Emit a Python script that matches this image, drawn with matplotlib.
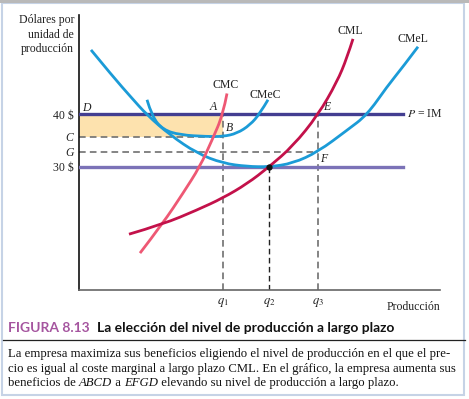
import matplotlib
matplotlib.use("Agg")
import matplotlib.pyplot as plt
from matplotlib.path import Path
from matplotlib.patches import PathPatch

# quantity (arbitrary units) and dollars per unit
q1, q2, q3 = 14.4, 19.0, 23.9
price_high, price_low = 40, 30
level_c, level_g = 35.8, 32.9

cmel_x = [1.2, 3.4, 5.2, 6.8, 9.1, 11.8, 14.4, 16.8, 19.0, 21.4, 23.9, 26.8, 28.8, 30.8, 32.4, 33.9]
cmel_y = [52.3, 47.2, 43.3, 39.9, 36.1, 32.6, 30.7, 30.1, 30.0, 30.7, 32.9, 37.0, 39.9, 45.3, 49.1, 52.9]

cmec_x = [6.8, 7.3, 8.4, 10.1, 12.8, 14.4, 15.8, 17.1, 18.1, 18.9]
cmec_y = [42.8, 39.6, 37.1, 36.1, 35.8, 35.8, 36.4, 38.0, 40.2, 42.8]

cmc_x = [6.1, 8.4, 10.4, 12.1, 13.3, 14.4, 14.8]
cmc_y = [13.6, 19.3, 25.0, 30.1, 35.1, 40.0, 44.0]

cml_x = [5.0, 8.4, 11.8, 14.4, 16.8, 19.0, 21.4, 23.9, 25.8, 26.8, 27.4]
cml_y = [17.2, 19.1, 21.8, 24.1, 26.8, 30.0, 34.0, 39.9, 46.2, 50.8, 54.4]

ytick_vals = [price_high, level_c, level_g, price_low]
ytick_labels = ["40 $", "C", "G", "30 $"]
xtick_vals = [q1, q2, q3]
xtick_labels = ["$q_1$", "$q_2$", "$q_3$"]

SERIF = "Liberation Serif"
plt.rcParams["font.family"] = SERIF
plt.rcParams["mathtext.fontset"] = "stix"

blue = "#1b9bd7"
pink = "#ee5874"
crimson = "#c3114a"
dash_grey = "#707070"

fig = plt.figure(figsize=(4.69, 3.99), dpi=100)
W, H = 469, 399

def fx(px):
    return px / W

def fy(py):
    return 1 - py / H

ax = fig.add_axes([fx(79), fy(290), fx(440) - fx(79), fy(15) - fy(290)])
ax.set_xlim(0, 36.1)
ax.set_ylim(6.57, 58.95)


def smooth_curve(xs, ys, color, z):
    # quadratic bezier through the midpoints, read points act as controls
    pts = list(zip(xs, ys))
    verts = [pts[0]]
    codes = [Path.MOVETO]
    for i in range(1, len(pts) - 1):
        mid = ((pts[i][0] + pts[i + 1][0]) / 2, (pts[i][1] + pts[i + 1][1]) / 2)
        if i == len(pts) - 2:
            mid = pts[-1]
        verts += [pts[i], mid]
        codes += [Path.CURVE3, Path.CURVE3]
    patch = PathPatch(Path(verts, codes), fill=False, edgecolor=color, lw=2.0,
                      zorder=z, capstyle="butt")
    ax.add_patch(patch)


# profit area ABCD
ax.fill_between([0, q1], level_c, price_high, color="#fde2ae", lw=0, zorder=1)

# guide lines
dash = (0, (4, 2.5))
ax.plot([0, q1], [level_c, level_c], color=dash_grey, lw=1.2, ls=dash, zorder=2)
ax.plot([0, q3], [level_g, level_g], color=dash_grey, lw=1.2, ls=dash, zorder=2)
ax.plot([q1, q1], [6.57, price_high], color=dash_grey, lw=1.2, ls=dash, zorder=2)
ax.plot([q3, q3], [6.57, price_high], color=dash_grey, lw=1.2, ls=dash, zorder=2)
ax.plot([q2, q2], [6.57, price_low], color="#222222", lw=1.0, ls=dash, zorder=2)

# price lines
ax.plot([0, 32.4], [price_high, price_high], color="#433e91", lw=2.4, zorder=3)
ax.plot([0, 32.4], [price_low, price_low], color="#7b72b7", lw=2.4, zorder=3)

# cost curves
smooth_curve(cmel_x, cmel_y, blue, 4)
smooth_curve(cmec_x, cmec_y, blue, 4)
smooth_curve(cmc_x, cmc_y, pink, 5)
smooth_curve(cml_x, cml_y, crimson, 5)
ax.plot([q2], [price_low], "o", color="#111111", ms=3.5, zorder=6)

# curve names and points
lab = dict(fontsize=8.5, color="#222222", family=SERIF)
ax.text(14.7, 45.6, "CMC", ha="center", va="center", **lab)
ax.text(18.6, 43.7, "CMeC", ha="center", va="center", **lab)
ax.text(27.1, 55.9, "CML", ha="center", va="center", **lab)
ax.text(33.4, 54.4, "CMeL", ha="center", va="center", **lab)
ax.text(32.8, price_high, "$P$ = IM", ha="left", va="center", **lab)
pts = dict(fontsize=8.5, color="#222222", family=SERIF, style="italic", va="center")
ax.text(0.3, 41.3, "D", ha="left", **pts)
ax.text(13.4, 41.4, "A", ha="center", **pts)
ax.text(15.0, 37.4, "B", ha="center", **pts)
ax.text(24.8, 41.4, "E", ha="center", **pts)
ax.text(24.5, 31.6, "F", ha="center", **pts)

ax.set_yticks(ytick_vals)
ax.set_yticklabels(ytick_labels, fontsize=8.5)
for t in ax.get_yticklabels():
    if t.get_text() in ("C", "G"):
        t.set_style("italic")
ax.set_xticks(xtick_vals)
ax.set_xticklabels(xtick_labels, fontsize=9)
ax.tick_params(axis="both", length=0, pad=4, colors="#222222")

for s in ["top", "right"]:
    ax.spines[s].set_visible(False)
ax.spines["left"].set_color("#111111")
ax.spines["left"].set_linewidth(1.2)
ax.spines["bottom"].set_color("#666666")
ax.spines["bottom"].set_linewidth(1.2)

ax.text(1.0, -0.04, "Producción", transform=ax.transAxes, ha="right", va="top",
        fontsize=8.5, color="#222222")
fig.text(fx(74), fy(14), "Dólares por\nunidad de\nproducción", ha="right", va="top",
         fontsize=8.5, color="#222222", linespacing=1.3)

renderer = fig.canvas.get_renderer()

# caption
t1 = fig.text(fx(8), fy(328), "FIGURA 8.13", ha="left", va="center", fontsize=10,
              family="Lato", weight="bold", color="#a5559f")
x2 = fx(8) + t1.get_window_extent(renderer=renderer).width / W + fx(7)
fig.text(x2, fy(328), "La elección del nivel de producción a largo plazo", ha="left",
         va="center", fontsize=10, family="Lato", weight="bold", color="#111111")
fig.add_artist(plt.Line2D([fx(3), fx(465)], [fy(340), fy(340)], color="#222222", lw=0.9))


def run_line(py, pieces):
    x = fx(8)
    for txt, st in pieces:
        t = fig.text(x, fy(py), txt, ha="left", va="center", fontsize=9.2,
                     style=st, color="#111111", family=SERIF)
        bb = t.get_window_extent(renderer=renderer)
        x += bb.width / W


run_line(354, [("La empresa maximiza sus beneficios eligiendo el nivel de producción en el que el pre-", "normal")])
run_line(369, [("cio es igual al coste marginal a largo plazo CML. En el gráfico, la empresa aumenta sus", "normal")])
run_line(383, [("beneficios de ", "normal"), ("ABCD", "italic"), (" a ", "normal"), ("EFGD", "italic"),
               (" elevando su nivel de producción a largo plazo.", "normal")])

# frame
fig.add_artist(plt.Rectangle((fx(1.5), fy(395)), fx(464) - fx(1.5), fy(3) - fy(395),
                             fill=False, edgecolor="#c6d3e6", lw=1.5))
fig.add_artist(plt.Rectangle((0, fy(3)), 1, 3 / H, color="#b9b9b9", lw=0))

fig.savefig("out.png", dpi=100)
